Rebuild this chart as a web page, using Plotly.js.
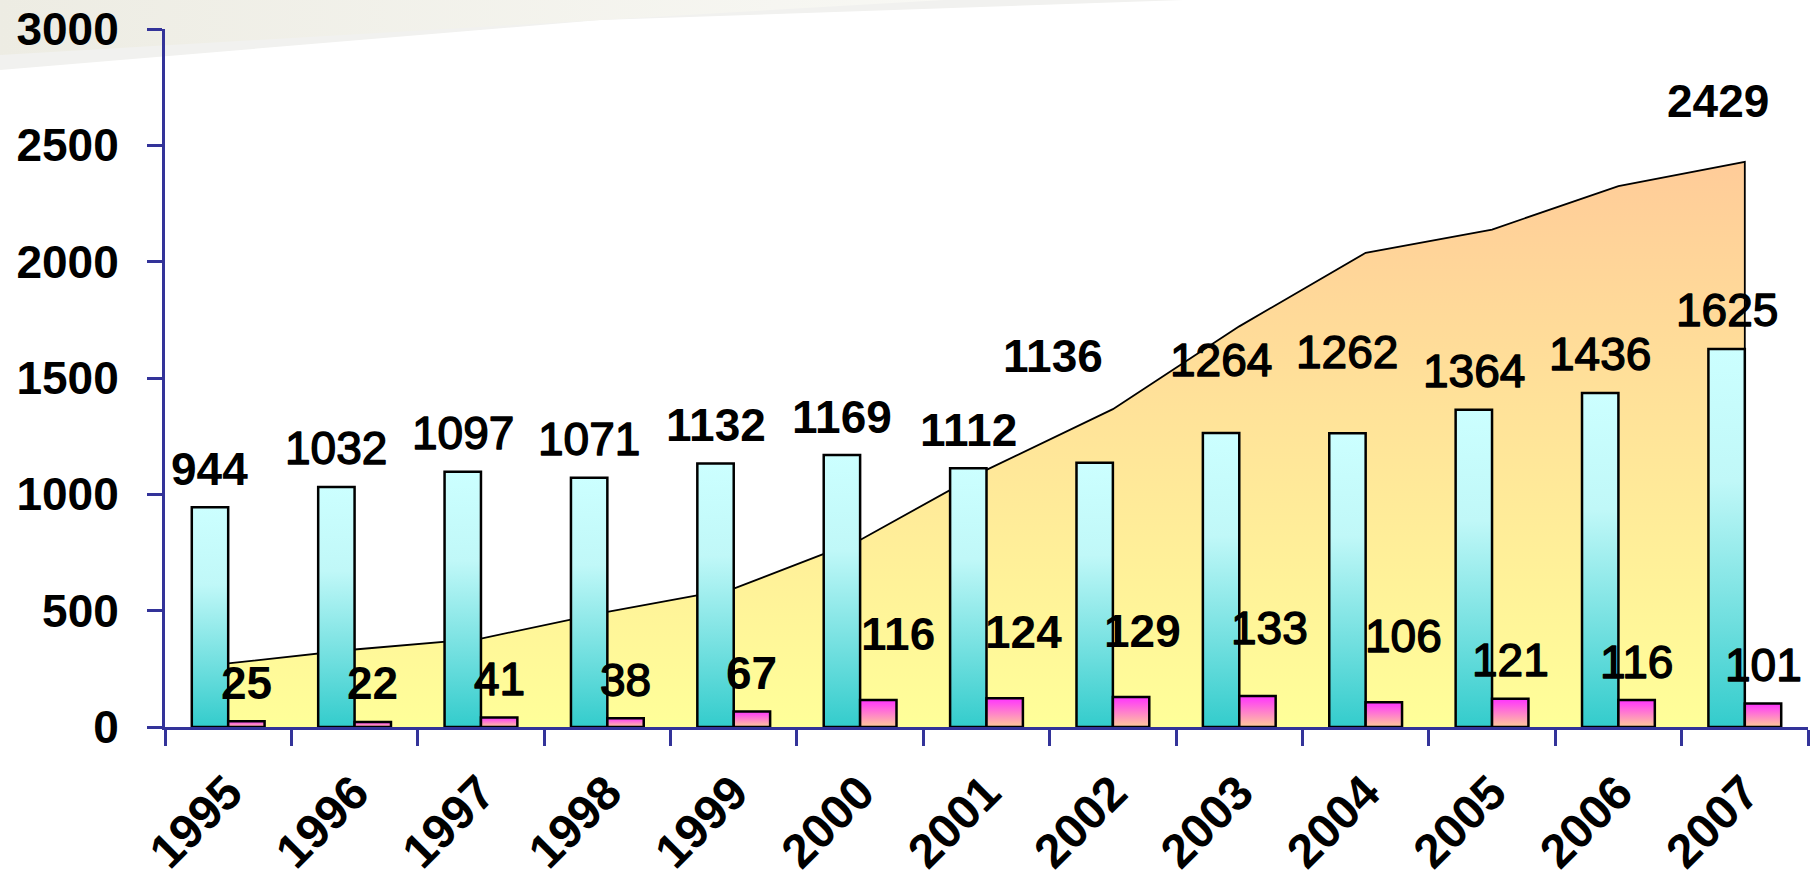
<!DOCTYPE html>
<html>
<head>
<meta charset="utf-8">
<script src="https://cdn.plot.ly/plotly-3.0.1.min.js"></script>
<style>
  html, body { margin: 0; padding: 0; background: #ffffff; }
  #chart { width: 1810px; height: 877px; }
</style>
</head>
<body>
<div id="chart"></div>
<script>
// ---- data ----
const years = ['1995','1996','1997','1998','1999','2000','2001','2002','2003','2004','2005','2006','2007'];
const barsMain  = [944, 1032, 1097, 1071, 1132, 1169, 1112, 1136, 1264, 1262, 1364, 1436, 1625];
const barsSmall = [25, 22, 41, 38, 67, 116, 124, 129, 133, 106, 121, 116, 101];
const areaTotal = [273, 333, 380, 495, 595, 804, 1105, 1366, 1722, 2038, 2138, 2325, 2429];
const yTicks = [0, 500, 1000, 1500, 2000, 2500, 3000];

// ---- label placement / style tweaks (pixels), as in the original slide ----
const mainLabelLift  = [0, 0, 0, 0, 0, 0, 0, 68, 34, 43, 0, 0, 0];
const mainLabelDx    = [0, 0, 0, 0, 0, 0, 0, -42, 0, 0, 0, 0, 0];
const smallLabelLift = [0, 0, 0, 0, 0, 28, 28, 27, 30, 28, 0, 0, 0];
const smallLabelDx   = [0, 0, 0, 0, 0, 20, 19, 11, 12, 20, 0, 0, 0];
const mainLabelBold  = [1, 0, 0, 0, 1, 1, 1, 1, 0, 0, 0, 0, 0];
const smallLabelBold = [1, 1, 0, 0, 1, 1, 1, 1, 0, 0, 0, 0, 0];

const FONT = 'Liberation Sans, Arial, sans-serif';
const AXIS = '#333399';
const BARGAP = 0.424;
const barOff = (1 - BARGAP) / 4;   // bar centre offset from category centre (category units)
const BASE_GAP = 21.5;             // visible gap between bar top and its label
const PAD = 11;                    // text box padding below the digits

const areaX = years.concat([years[years.length - 1]]);
const areaY = areaTotal.concat([0]);
const areaMax = Math.max.apply(null, areaTotal);

const data = [
  {
    type: 'scatter', x: areaX, y: areaY, xaxis: 'x', yaxis: 'y',
    mode: 'lines', line: { color: '#000000', width: 1.8 },
    fill: 'tozeroy', fillcolor: '#FFEE99',
    fillgradient: { type: 'vertical', start: 0, stop: areaMax,
                    colorscale: [[0, '#FFFF99'], [1, '#FFCC99']] },
    hoverinfo: 'skip', showlegend: false
  },
  {
    type: 'bar', x: years, y: barsMain, xaxis: 'x2', yaxis: 'y2',
    marker: { color: '#99E6E6', line: { color: '#000000', width: 2.5 } },
    hoverinfo: 'skip', showlegend: false
  },
  {
    type: 'bar', x: years, y: barsSmall, xaxis: 'x2', yaxis: 'y2',
    marker: { color: '#FF99CC', line: { color: '#000000', width: 2.5 } },
    hoverinfo: 'skip', showlegend: false
  }
];

const annotations = [];
const mediumIdx = [];
years.forEach(function (yr, i) {
  if (!mainLabelBold[i]) mediumIdx.push(annotations.length);
  annotations.push({
    xref: 'x', yref: 'y', x: i - barOff, y: barsMain[i],
    text: String(barsMain[i]), showarrow: false,
    xanchor: 'center', yanchor: 'bottom',
    xshift: mainLabelDx[i], yshift: BASE_GAP + mainLabelLift[i] - PAD,
    font: { family: FONT, size: 46, color: '#000000', weight: mainLabelBold[i] ? 'bold' : 'normal' }
  });
  if (!smallLabelBold[i]) mediumIdx.push(annotations.length);
  annotations.push({
    xref: 'x', yref: 'y', x: i + barOff, y: barsSmall[i],
    text: String(barsSmall[i]), showarrow: false,
    xanchor: 'center', yanchor: 'bottom',
    xshift: smallLabelDx[i], yshift: BASE_GAP + smallLabelLift[i] - PAD,
    font: { family: FONT, size: 46, color: '#000000', weight: smallLabelBold[i] ? 'bold' : 'normal' }
  });
});
const last = areaTotal.length - 1;
annotations.push({
  xref: 'x', yref: 'y', x: last, y: areaTotal[last],
  text: String(areaTotal[last]), showarrow: false,
  xanchor: 'center', yanchor: 'bottom', xshift: -27, yshift: 44 - PAD,
  font: { family: FONT, size: 46, color: '#000000', weight: 'bold' }
});

const layout = {
  width: 1810, height: 877,
  margin: { l: 165, r: 2, t: 29, b: 150, pad: 0 },
  paper_bgcolor: '#ffffff', plot_bgcolor: 'rgba(0,0,0,0)',
  showlegend: false,
  barmode: 'group', bargap: BARGAP, bargroupgap: 0,
  xaxis: {
    type: 'category', range: [-0.5, years.length - 0.5],
    tickson: 'boundaries', ticks: 'outside', ticklen: 16, tickwidth: 3, tickcolor: AXIS,
    showline: true, linecolor: AXIS, linewidth: 3,
    showgrid: false, zeroline: false,
    tickangle: -45, ticklabelstandoff: 15,
    tickfont: { family: FONT, size: 48, color: '#000000', weight: 'bold' },
    fixedrange: true
  },
  yaxis: {
    range: [0, 3000], tickmode: 'array', tickvals: yTicks, ticktext: yTicks.map(String),
    ticks: 'outside', ticklen: 15, tickwidth: 3, tickcolor: AXIS,
    showline: true, linecolor: AXIS, linewidth: 3,
    showgrid: false, zeroline: false, ticklabelstandoff: 19,
    tickfont: { family: FONT, size: 46, color: '#000000', weight: 'bold' },
    fixedrange: true
  },
  xaxis2: { type: 'category', overlaying: 'x', range: [-0.5, years.length - 0.5], visible: false, fixedrange: true },
  yaxis2: { overlaying: 'y', range: [0, 3000], visible: false, fixedrange: true },
  annotations: annotations,
  shapes: [
    { type: 'path', xref: 'paper', yref: 'paper', layer: 'below', line: { width: 0 },
      fillcolor: '#F1F1EF',
      path: 'M -0.1004 1.0415 L -0.1004 0.9413 L 0.2648 1.0129 L 0.6200 1.0415 Z' },
    { type: 'path', xref: 'paper', yref: 'paper', layer: 'below', line: { width: 0 },
      fillcolor: '#EFEEE6',
      path: 'M -0.1004 1.0415 L -0.1004 0.9628 L 0.4741 1.0415 Z' }
  ]
};

Plotly.newPlot('chart', data, layout, { displayModeBar: false, staticPlot: true }).then(function (gd) {
  const ns = 'http://www.w3.org/2000/svg';
  const svg = gd.querySelector('svg.main-svg');
  let defs = svg.querySelector('defs');
  if (!defs) { defs = document.createElementNS(ns, 'defs'); svg.insertBefore(defs, svg.firstChild); }
  function addGrad(id, stops, horizontal) {
    const g = document.createElementNS(ns, 'linearGradient');
    g.setAttribute('id', id);
    g.setAttribute('x1', '0'); g.setAttribute('y1', '0');
    g.setAttribute('x2', horizontal ? '1' : '0'); g.setAttribute('y2', horizontal ? '0' : '1');
    stops.forEach(function (s) {
      const st = document.createElementNS(ns, 'stop');
      st.setAttribute('offset', s[0]); st.setAttribute('stop-color', s[1]);
      g.appendChild(st);
    });
    defs.appendChild(g);
  }
  addGrad('gradCyan', [[0, '#CCFFFF'], [0.35, '#C0F8F8'], [1, '#33CCCC']], false);
  addGrad('gradPink', [[0, '#FF33FF'], [1, '#FFCC99']], false);
  addGrad('gradSwoosh', [[0, '#EDECE3'], [1, '#F8F8F4']], true);
  const barTraces = gd.querySelectorAll('.barlayer .trace');
  if (barTraces[0]) barTraces[0].querySelectorAll('path').forEach(function (p) { p.style.fill = 'url(#gradCyan)'; });
  if (barTraces[1]) barTraces[1].querySelectorAll('path').forEach(function (p) { p.style.fill = 'url(#gradPink)'; });
  const shp = gd.querySelectorAll('.shapelayer path');
  if (shp[1]) shp[1].style.fill = 'url(#gradSwoosh)';
  // medium-weight labels: regular face thickened with a thin outline
  mediumIdx.forEach(function (k) {
    const t = gd.querySelector('.annotation[data-index="' + k + '"] text');
    if (t) {
      t.style.stroke = '#000000';
      t.style.strokeWidth = '1.4px';
      t.style.strokeLinejoin = 'round';
    }
  });
});
</script>
</body>
</html>
